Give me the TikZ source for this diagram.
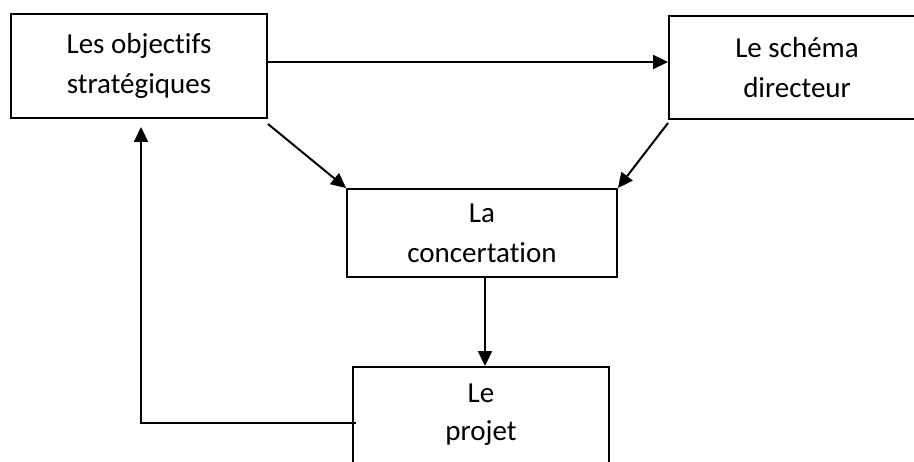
\documentclass[tikz,border=0pt]{standalone}
\usepackage{fontspec}
\setmainfont{Carlito}[Ligatures=NoCommon]
\usetikzlibrary{arrows.meta}
\begin{document}
\begin{tikzpicture}[x=1pt,y=1pt,
  box/.style={draw=black, line width=1.9pt, fill=white, inner sep=0pt,
    minimum width=256pt, align=center,
    font=\fontsize{29}{40}\selectfont},
  arr/.style={line width=2pt, -{Triangle[length=15pt,width=14pt]}}]
\useasboundingbox (0,0) rectangle (914,-462);
\fill[white] (0,0) rectangle (914,-462);
\node[box, minimum height=104pt] (o) at (139,-66) {Les objectifs\\strat\'egiques};
\node[box, minimum height=103pt] (s) at (797,-67.5) {Le sch\'ema\\directeur};
\node[box, minimum width=270pt, minimum height=88pt] (c) at (482,-233) {La\\concertation};
\node[box, minimum height=96pt, font=\fontsize{29}{38}\selectfont] (p) at (481,-415) {Le\\projet};
\draw[arr] ([yshift=4pt]o.east) -- ([yshift=5.5pt]s.west);
\draw[arr] ([yshift=-5pt]o.south east) -- (c.north west);
\draw[arr] ([yshift=-3pt]s.south west) -- (c.north east);
\draw[arr] ([xshift=3pt]c.south) -- ([xshift=4pt]p.north);
\draw[arr] ([shift={(4pt,-8pt)}]p.west) -| ([shift={(2pt,-8pt)}]o.south);
\end{tikzpicture}
\end{document}
